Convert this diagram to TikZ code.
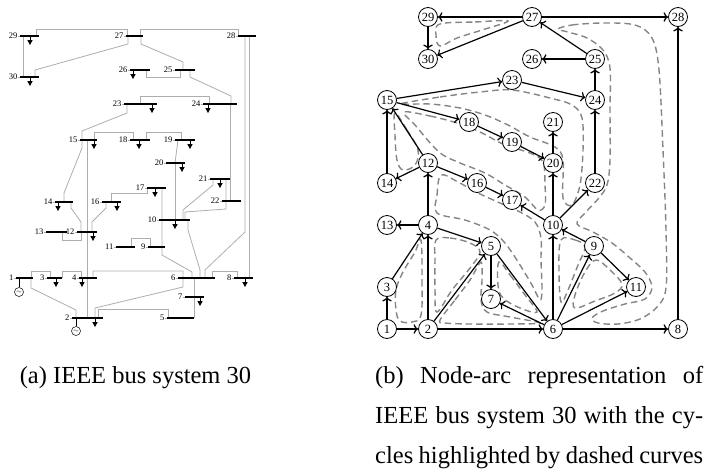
\documentclass[tikz,border=0pt]{standalone}
\usepackage{fontspec}
\setmainfont{Liberation Serif}
\usetikzlibrary{arrows.meta}
\begin{document}
\begin{tikzpicture}[x=1pt,y=-1pt,
  busbar/.style={line width=2pt,black},
  tl/.style={line width=0.8pt,color=black!32},
  lbl/.style={font=\fontsize{8.5}{9}\selectfont,anchor=east,inner sep=0pt},
  gn/.style={circle,draw,line width=0.8pt,minimum size=19pt,inner sep=0pt,fill=white,font=\fontsize{12.5}{12.5}\selectfont},
  arc/.style={line width=1.2pt,-{To[length=4.5pt,width=9.5pt]}},
  cyc/.style={color=black!48,line width=1.4pt,dash pattern=on 6.5pt off 4pt},
  gen/.style={circle,draw,line width=0.5pt,minimum size=9pt,inner sep=0pt,font=\fontsize{6}{6}\selectfont},
  captxt/.style={font=\fontsize{24.5}{30}\selectfont,inner sep=0pt}]
\useasboundingbox (0,0) rectangle (704,469);

% ---------------- (a) one-line diagram ----------------
\draw[tl] (36,36)--(36,29)--(127,29)--(127,36);
\draw[tl] (140,36)--(140,29)--(238,29)--(238,36);
\draw[tl] (23,36)--(23,77);
\draw[tl] (35,77)--(35,70)--(128,44)--(128,36);
\draw[tl] (141,36)--(141,44)--(183,62)--(183,70);
\draw[tl] (146,70)--(146,77)--(180,77)--(180,70);
\draw[tl] (190,70)--(190,77)--(231,96)--(231,104);
\draw[tl] (140,104)--(140,96)--(209,96)--(209,104);
\draw[tl] (127,104)--(127,113)--(82,131)--(82,140);
\draw[tl] (94,140)--(94,132)--(133,132)--(133,140);
\draw[tl] (146,140)--(146,132)--(181,132)--(181,140);
\draw[tl] (178,140)--(175,163);
\draw[tl] (175,163)--(175,220);
\draw[tl] (87,140)--(87,318);
\draw[tl] (64,202)--(64,193)--(82,148)--(82,140);
\draw[tl] (81,232)--(81,222)--(71,208)--(71,202);
\draw[tl] (62,232)--(62,240)--(81,240)--(81,232);
\draw[tl] (92,232)--(92,222)--(106,208)--(106,202);
\draw[tl] (111,202)--(111,193)--(147,193)--(147,188);
\draw[tl] (162,188)--(162,255)--(192,272)--(192,278);
\draw[tl] (131,247)--(131,238)--(150,238)--(150,247);
\draw[tl] (188,220)--(188,230)--(200,270)--(200,278);
\draw[tl] (213,179)--(213,185)--(183,210)--(183,220);
\draw[tl] (185,220)--(185,212)--(226,209)--(226,179);
\draw[tl] (230,201)--(230,104);
\draw[tl] (205,278)--(205,270)--(245,232)--(245,36);
\draw[tl] (249,278)--(249,36);
\draw[tl] (212,278)--(212,271)--(237,271)--(237,278);
\draw[tl] (31,278)--(31,271)--(50,271)--(50,278);
\draw[tl] (62,278)--(62,271)--(81,271)--(81,278);
\draw[tl] (31,278)--(31,288)--(76,310)--(76,318);
\draw[tl] (93,278)--(93,271)--(183,271)--(183,287)--(95,308)--(95,318);
\draw[tl] (98,318)--(98,309)--(168,309)--(168,318);
\draw[tl] (194,278)--(194,318);

\foreach \n/\xl/\xr/\y in {29/20/39/36, 27/126/143/36, 28/238/256/36, 30/20/39/77,
  26/130/150/70, 25/175/195/70, 23/124/157/104, 24/203/237/104, 15/80/97/140,
  18/130/150/140, 19/175/195/140, 20/166/185/163, 21/210/230/179, 17/147/166/188,
  22/222/241/201, 14/55/73/202, 16/102/121/202, 10/159/190/220, 13/46/67/232,
  12/77/97/232, 11/116/135/247, 9/148/165/247, 1/16/33/278, 3/47/62/278,
  4/79/97/278, 6/178/215/278, 8/234/253/278, 7/185/204/297, 2/72/103/318, 5/167/194/318}
{
  \draw[tl] (\xl-2.5,\y)--(\xl,\y);
  \draw[busbar] (\xl,\y)--(\xr,\y);
  \node[lbl] (bus\n) at (\xl-2.5,\y) {\n};
}
\foreach \x/\y in {30/36, 30/77, 133/70, 152/104, 208/104, 94/140, 139/140, 190/140,
  182/163, 220/179, 155/188, 58/202, 117/202, 175/220, 93/232, 56/278, 82/278,
  245/278, 200/297, 95/318}
{
  \draw[line width=0.6pt] (\x,\y+1)--(\x,\y+4);
  \fill (\x-2.7,\y+4)--(\x+2.7,\y+4)--(\x,\y+9)--cycle;
}
\node[gen] (g1) at (19,292) {$\sim$};
\node[gen] (g2) at (76,331) {$\sim$};
\draw[line width=0.5pt] (19,279)--(g1.north);
\draw[line width=0.5pt] (76,319)--(g2.north);

\node[captxt,anchor=base] (capa) at (135.5,383) {(a) IEEE bus system 30};

% ---------------- (b) node-arc graph ----------------
% dashed cycles (drawn first, below arcs and nodes)
\draw[cyc] plot[smooth cycle,tension=0.6] coordinates {(440,24) (475,22) (508,21) (482,30) (457,38) (440,46) (436,35)};
\draw[cyc] plot[smooth cycle,tension=0.55] coordinates {(558,29) (572,25) (603,23) (635,25) (652,38) (659,70) (663,150) (666,230) (666,288) (657,307) (640,319) (618,324) (598,323) (592,318) (603,311) (625,304) (645,299) (652,287) (645,272) (630,258) (612,243) (593,232) (577,224) (585,213) (598,199) (607,185) (610,160) (610,110) (610,68) (603,50) (587,38) (568,32)};
\draw[cyc] plot[smooth cycle,tension=0.55] coordinates {(400,104) (440,97) (480,92) (512,90) (550,98) (572,105) (582,118) (583,150) (580,185) (572,205) (563,198) (563,160) (555,147) (530,137) (508,125) (485,115) (460,108) (430,104)};
\draw[cyc] plot[smooth cycle,tension=0.55] coordinates {(404,112) (430,116) (457,123) (480,132) (505,145) (530,153) (543,162) (545,185) (545,205) (538,210) (525,197) (505,185) (485,173) (460,163) (443,155) (432,145) (415,125)};
\draw[cyc] plot[smooth cycle,tension=0.6] coordinates {(395,113) (407,130) (418,150) (415,165) (403,170) (397,160) (395,135)};
\draw[cyc] plot[smooth cycle,tension=0.55] coordinates {(437,213) (437,195) (441,175) (458,182) (478,193) (500,203) (520,212) (535,222) (541,238) (541,260) (542,290) (540,300) (532,285) (520,265) (505,243) (490,230) (465,220)};
\draw[cyc] plot[smooth cycle,tension=0.6] coordinates {(421,240) (422,280) (421,315) (412,322) (400,321) (396,310) (396,290) (403,272) (415,252)};
\draw[cyc] plot[smooth cycle,tension=0.6] coordinates {(436,240) (450,238) (470,243) (480,252) (470,268) (452,290) (437,312) (435,290) (435,260)};
\draw[cyc] plot[smooth cycle,tension=0.55] coordinates {(440,320) (455,300) (470,280) (481,262) (482,280) (481,300) (487,312) (510,317) (540,323) (510,324) (470,324) (445,323)};
\draw[cyc] plot[smooth cycle,tension=0.6] coordinates {(499,262) (510,275) (525,295) (537,312) (520,308) (503,298) (498,285)};
\draw[cyc] plot[smooth cycle,tension=0.6] coordinates {(561,240) (575,240) (585,247) (578,265) (568,290) (561,302) (559,270)};
\draw[cyc] plot[smooth cycle,tension=0.6] coordinates {(596,260) (610,270) (622,284) (615,293) (595,301) (575,308) (575,295) (585,272)};

\foreach \n/\x/\y in {29/428/17, 27/532/17, 28/678/17, 30/428/59, 26/532/59, 25/595/59,
  23/512/80, 15/387/100, 24/595/100, 18/469/122, 21/553/122, 19/512/142, 12/428/163,
  20/553/163, 14/387/183, 16/477/183, 22/595/183, 17/512/200, 13/387/225, 4/428/225,
  10/553/225, 5/491/246, 9/594/246, 3/387/287, 11/636/287, 7/491/299, 1/387/329,
  2/428/329, 6/553/329, 8/678/329}
{ \node[gn] (n\n) at (\x,\y) {\n}; }

% arcs
\foreach \a/\b in {27/29, 27/28, 29/30, 27/30, 25/27, 25/26, 24/25, 15/23, 23/24,
  15/18, 18/19, 19/20, 20/21, 10/20, 22/24, 10/22, 12/15, 14/15, 12/14, 12/16,
  16/17, 10/17, 4/12, 4/13, 4/5, 3/4, 2/4, 1/3, 1/2, 2/5, 5/7, 5/6, 6/7, 2/6,
  6/8, 8/28, 6/10, 6/9, 9/10, 9/11, 6/11}
{ \draw[arc] (n\a)--(n\b); }

\node[captxt,anchor=base west] (capb1) at (375,383) {\makebox[328pt][s]{(b) Node-arc representation of}};
\node[captxt,anchor=base west] (capb2) at (375,423) {\makebox[328pt][s]{IEEE bus system 30 with the cy-}};
\node[captxt,anchor=base west] (capb3) at (375,463) {\makebox[328pt][s]{cles highlighted by dashed curves}};
\end{tikzpicture}
\end{document}
